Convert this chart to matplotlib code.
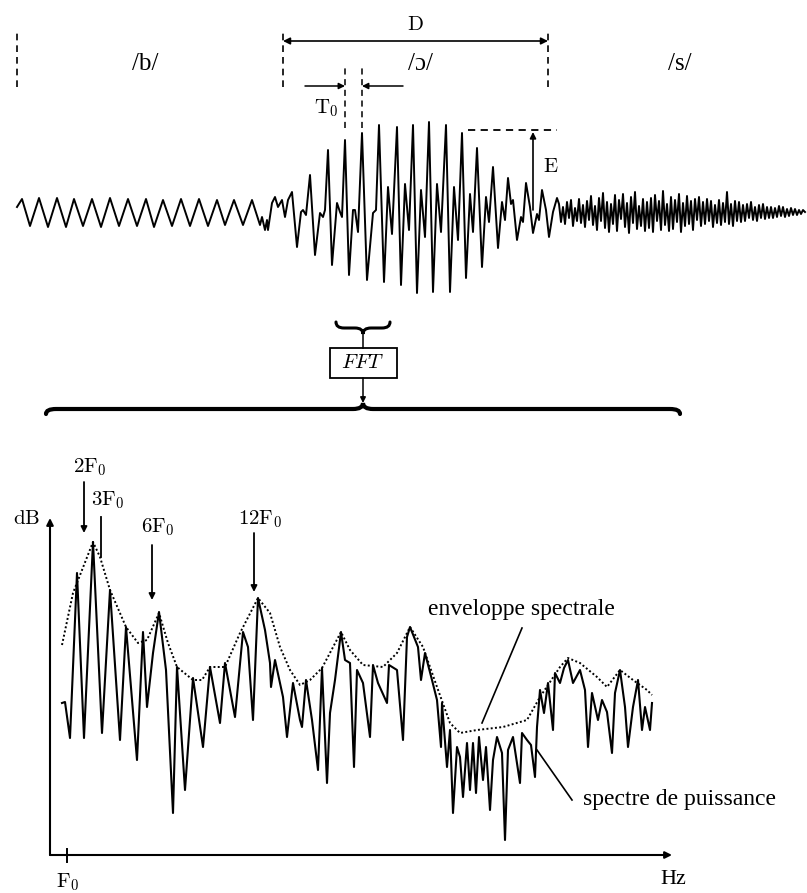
import numpy as np
import matplotlib
matplotlib.use("Agg")
import matplotlib.pyplot as plt
from matplotlib.path import Path
from matplotlib.patches import PathPatch, Rectangle

plt.rcParams['font.family'] = ['Liberation Serif', 'DejaVu Serif']
plt.rcParams['mathtext.fontset'] = 'cm'

W, H = 807, 893

# ---- speech signal "bos": sample index / amplitude ----
b_t = [17, 22, 30, 39, 48, 57, 66, 74, 83, 92,
       101, 110, 119, 128, 137, 146, 154, 163, 172, 181,
       190, 199, 208, 217, 225, 234, 243, 252, 260]
b_amp = [5, 13, -14, 14, -15, 14, -15, 13, -14, 13,
         -15, 14, -14, 13, -14, 13, -15, 12, -14, 13,
         -14, 13, -14, 12, -13, 12, -13, 12, -13]

o_t = [262, 265, 267, 268, 272, 275, 278, 282, 285, 288,
       292, 297, 301, 303, 306,
       310, 315, 320, 323, 325,
       328, 332, 337, 340, 342,
       345, 349, 353, 355, 358,
       362, 367, 373, 376,
       379, 384, 388, 392,
       397, 401, 405, 409,
       413, 417, 421, 425,
       429, 433, 437, 441,
       446, 450, 454, 458,
       462, 466, 470, 473,
       477, 482, 486, 489,
       493, 498, 502, 505,
       508, 511, 513, 517, 521, 523,
       526, 530, 533, 537, 539,
       542, 546, 549, 553, 557]
o_amp = [-5, -18, -8, -18, 9, 15, 5, 12, -5, 12,
         20, -35, 0, 2, -3,
         37, -43, -1, -5, 2,
         62, -53, 9, 0, -5,
         72, -63, 2, 2, -20,
         79, -68, -1, 2,
         87, -70, 25, -22,
         85, -73, 28, -18,
         87, -81, 22, -25,
         90, -80, 28, -20,
         87, -80, 25, -28,
         79, -66, 18, -20,
         64, -55, 15, -10,
         45, -36, 10, -8,
         34, 8, 12, -28, -5, -10,
         29, 5, -21, -2, -8,
         22, 2, -25, 0, 14]

# fricative part, one value every 2 samples from 559
s_amp = [8, -10, 5, -12, 10, -6, 12, -14, 4, -9, 13, -11, 7, -15, 11, -8,
         16, -13, 6, -18, 14, -9, 19, -16, 10, -20, 8, -12, 17, -19, 12,
         -7, 18, -15, 9, -21, 15, -11, 20, -17, 6, -14, 13, -19, 10, -16,
         14, -20, 17, -9, 11, -18, 21, -13, 8, -19, 15, -17, 12, -10, 18,
         -20, 9, -14, 16, -12, 11, -18, 13, -8, 15,
         -14, 10, -12, 13, -9, 11, -15, 7, -11, 12, -13, 9, -10, 20, -12,
         8, -14, 11, -9, 10,
         -10, 7, -9, 8, -6, 10, -8, 5, -9, 7, -6, 8, -7, 5, -6,
         5, -6, 4, -5, 6, -4, 5, -5, 3, -4, 4, -3, 3, -3, 2, -2, 2, 0]
s_t = list(559 + 2 * np.arange(len(s_amp)))

phonemes = ['/b/', '/ɔ/', '/s/']
phon_x = [145, 421, 680]
bounds = [17, 283, 548]
t0_marks = [345, 362]
e_level = 82

# ---- power spectrum (FFT bin, dB) ----
spec_bin = [12, 15, 20, 27, 34, 43, 52, 60, 70, 76,
            87, 93, 97, 103, 109, 116, 123, 127, 135, 143,
            153, 160, 170, 175, 185, 193, 198, 203, 208, 215,
            220, 221, 225, 233, 237, 243, 250, 252, 256, 262,
            268, 272, 277, 280, 285, 291, 295, 300, 304, 307,
            313, 320, 323, 328, 337, 339, 347, 353, 357, 360,
            368, 371, 375, 382, 387, 391, 392, 397, 400, 403,
            407, 410, 413, 417, 420, 423, 426, 429, 433, 436,
            440, 443, 447, 452, 455, 458, 463, 470, 472, 477,
            481, 485, 487, 490, 494, 498, 503, 505, 510, 514,
            518, 523, 530, 535, 538, 542, 548, 552, 557, 562,
            565, 570, 575, 578, 583, 588, 592, 595, 600, 602]
spec_db = [30.4, 30.6, 23.4, 56.4, 23.4, 62.6, 24.4, 53.0, 23.0, 45.6,
           19.0, 44.6, 29.6, 40.4, 48.6, 37.0, 8.4, 37.6, 13.0, 35.4,
           21.6, 37.6, 26.4, 38.4, 27.6, 44.6, 41.6, 27.0, 51.4, 45.0,
           38.4, 33.6, 39.0, 31.6, 23.6, 34.4, 27.0, 25.6, 35.0, 27.0,
           17.0, 37.4, 14.4, 28.4, 35.0, 44.6, 39.0, 38.4, 17.6, 37.0,
           34.4, 23.6, 38.0, 34.4, 30.4, 38.0, 37.0, 23.0, 43.6, 45.6,
           41.6, 35.0, 40.4, 35.0, 31.0, 21.6, 30.4, 17.6, 25.0, 8.4,
           21.6, 19.6, 11.6, 22.4, 13.0, 22.4, 12.4, 23.6, 15.0, 21.6,
           9.0, 19.0, 23.6, 20.4, 3.0, 21.0, 23.6, 14.4, 24.4, 23.0,
           22.0, 15.6, 25.6, 33.0, 28.4, 34.4, 25.0, 36.4, 34.4, 37.4,
           39.0, 34.4, 37.0, 33.0, 21.6, 32.4, 27.0, 31.0, 28.6, 20.4,
           32.4, 37.0, 29.6, 21.6, 29.6, 35.0, 25.0, 29.6, 25.0, 30.4]

env_bin = [12, 23, 43, 50, 60, 76, 88, 97, 109, 118,
           127, 143, 152, 160, 175, 190, 208, 220, 230, 240,
           250, 260, 272, 291, 300, 313, 333, 347, 360, 373,
           387, 400, 410, 427, 453, 477, 490, 510, 518, 530,
           547, 557, 570, 583, 597, 602]
env_db = [42.0, 52.4, 62.6, 59.6, 53.0, 45.6, 42.4, 43.0, 48.4, 42.4,
          37.6, 35.0, 35.0, 37.6, 37.6, 44.4, 51.4, 48.4, 41.6, 37.0,
          34.0, 35.0, 37.4, 44.6, 41.0, 38.0, 37.6, 40.4, 45.6, 41.6,
          33.6, 26.4, 24.4, 25.0, 25.6, 27.0, 31.6, 37.6, 39.4, 38.4,
          35.6, 33.6, 37.0, 35.0, 33.0, 32.0]

F0_BIN = 17
harmonics = [2, 3, 6, 12]
harm_labels = [r'$\mathrm{2F_0}$', r'$\mathrm{3F_0}$', r'$\mathrm{6F_0}$', r'$\mathrm{12F_0}$']
harm_top = [74.6, 67.6, 62.0, 64.4]
harm_tip = [64.4, 59.6, 51.0, 52.6]
harm_text = [(40, 77.6), (58, 71.0), (108, 65.6), (210, 67.2)]

fig = plt.figure(figsize=(W / 100, H / 100), dpi=100)

# ---------- waveform ----------
axw = fig.add_axes([0, (H - 320) / H, 1, 320 / H])
axw.set_xlim(0, W)
axw.set_ylim(-108, 212)
axw.axis('off')
axw.plot(b_t + o_t + s_t, b_amp + o_amp + s_amp, color='black', lw=1.4)

for x in bounds:
    axw.plot([x, x], [125, 182], color='black', lw=1.2, ls=(0, (4, 3)))
for lab, x in zip(phonemes, phon_x):
    axw.text(x, 148, lab, fontsize=18, ha='center', va='center')

axw.annotate('', xy=(bounds[1], 171), xytext=(bounds[2], 171),
             arrowprops=dict(arrowstyle='<|-|>', color='black', lw=1.2,
                             mutation_scale=10, shrinkA=0, shrinkB=0))
axw.text(415, 187, r'$\mathrm{D}$', fontsize=15, ha='center', va='center')

# pitch period
for x in t0_marks:
    axw.plot([x, x], [84, 144], color='black', lw=1.1, ls=(0, (4, 3)))
axw.annotate('', xy=(t0_marks[0], 126), xytext=(305, 126),
             arrowprops=dict(arrowstyle='-|>', color='black', lw=1.1,
                             mutation_scale=9, shrinkA=0, shrinkB=0))
axw.annotate('', xy=(t0_marks[1], 126), xytext=(403, 126),
             arrowprops=dict(arrowstyle='-|>', color='black', lw=1.1,
                             mutation_scale=9, shrinkA=0, shrinkB=0))
axw.text(326, 104, r'$\mathrm{T_0}$', fontsize=15, ha='center', va='center')

# energy
axw.plot([468, 557], [e_level, e_level], color='black', lw=1.3, ls=(0, (4, 3)))
axw.annotate('', xy=(533, e_level - 2), xytext=(533, 2),
             arrowprops=dict(arrowstyle='-|>', color='black', lw=1.2,
                             mutation_scale=9, shrinkA=0, shrinkB=0))
axw.text(551, 45, r'$\mathrm{E}$', fontsize=15, ha='center', va='center')

# ---------- spectrum ----------
axs = fig.add_axes([50 / W, (H - 855) / H, (W - 50) / W, 415 / H])
axs.set_xlim(0, W - 50)
axs.set_ylim(0, 83)
axs.axis('off')
axs.plot(spec_bin, spec_db, color='black', lw=1.5)
axs.plot(env_bin, env_db, color='black', lw=1.4, ls=(0, (1, 1.2)))

axs.annotate('', xy=(0, 67.4), xytext=(0, 0),
             arrowprops=dict(arrowstyle='-|>', color='black', lw=1.5,
                             mutation_scale=10, shrinkA=0, shrinkB=0))
axs.annotate('', xy=(622, 0), xytext=(0, 0),
             arrowprops=dict(arrowstyle='-|>', color='black', lw=1.5,
                             mutation_scale=10, shrinkA=0, shrinkB=0))
axs.plot([F0_BIN, F0_BIN], [-1.4, 1.2], color='black', lw=1.4, clip_on=False)
axs.text(F0_BIN + 1, -5.4, r'$\mathrm{F_0}$', fontsize=15, ha='center', va='center')
axs.text(623, -5.0, 'Hz', fontsize=16, ha='center', va='center')
axs.text(-23, 67.0, r'$\mathrm{dB}$', fontsize=15, ha='center', va='center')

for k, lab, top, tip, (tx, ty) in zip(harmonics, harm_labels, harm_top, harm_tip, harm_text):
    x = k * F0_BIN
    if k == 3:
        axs.plot([x, x], [top, tip], color='black', lw=1.3)
    else:
        axs.annotate('', xy=(x, tip), xytext=(x, top),
                     arrowprops=dict(arrowstyle='-|>', color='black', lw=1.3,
                                     mutation_scale=9, shrinkA=0, shrinkB=0))
    axs.text(tx, ty, lab, fontsize=15, ha='center', va='center')

axs.plot([472, 432], [45.4, 26.4], color='black', lw=1.2)
axs.text(471, 49, 'enveloppe spectrale', fontsize=17, ha='center', va='center')
axs.plot([487, 522], [21, 11], color='black', lw=1.2)
axs.text(533, 11, 'spectre de puissance', fontsize=17, ha='left', va='center')


# ---------- FFT block and braces (pixel coordinates) ----------
axo = fig.add_axes([0, 0, 1, 1])
axo.set_xlim(0, W)
axo.set_ylim(H, 0)
axo.axis('off')


def brace(ax, x0, x1, y_end, y_line, y_tip, r, lw):
    xm = (x0 + x1) / 2
    verts = [(x0, y_end), (x0, y_line), (x0 + r, y_line),
             (xm - r, y_line),
             (xm, y_line), (xm, y_tip),
             (xm, y_line), (xm + r, y_line),
             (x1 - r, y_line),
             (x1, y_line), (x1, y_end)]
    codes = [Path.MOVETO, Path.CURVE3, Path.CURVE3,
             Path.LINETO,
             Path.CURVE3, Path.CURVE3,
             Path.CURVE3, Path.CURVE3,
             Path.LINETO,
             Path.CURVE3, Path.CURVE3]
    ax.add_patch(PathPatch(Path(verts, codes), fill=False, lw=lw,
                           edgecolor='black', capstyle='round'))


brace(axo, 336, 390, 322, 328, 334, 8, 2.2)
axo.plot([363, 363], [334, 348], color='black', lw=1.1)
axo.add_patch(Rectangle((330, 348), 67, 30, fill=False, edgecolor='black', lw=1.3))
axo.text(363, 363, r'$FFT$', fontsize=15, ha='center', va='center')
axo.annotate('', xy=(363, 403), xytext=(363, 378),
             arrowprops=dict(arrowstyle='-|>', color='black', lw=1.1,
                             mutation_scale=8, shrinkA=0, shrinkB=0))
brace(axo, 46, 680, 414, 409, 403, 10, 3.0)

fig.savefig('out.png', dpi=100, facecolor='white')
